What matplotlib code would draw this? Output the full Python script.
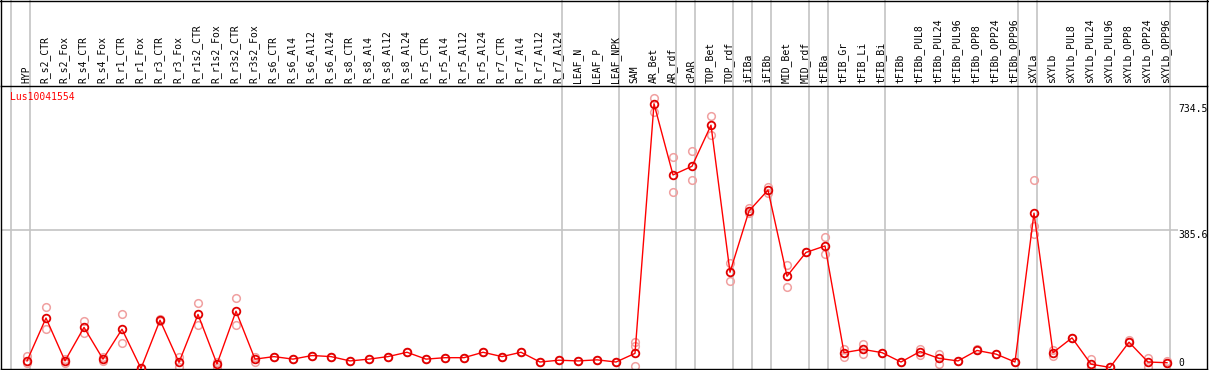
import numpy as np
import matplotlib
matplotlib.use("Agg")
import matplotlib.pyplot as plt
from matplotlib.lines import Line2D
import matplotlib.transforms as mtransforms

# ---------------- data ----------------
gene = "Lus10041554"
categories = [
    "HYP",
    "R_s2_CTR", "R_s2_Fox", "R_s4_CTR", "R_s4_Fox", "R_r1_CTR", "R_r1_Fox",
    "R_r3_CTR", "R_r3_Fox", "R_r1s2_CTR", "R_r1s2_Fox", "R_r3s2_CTR", "R_r3s2_Fox",
    "R_s6_CTR", "R_s6_Al4", "R_s6_Al12", "R_s6_Al24", "R_s8_CTR", "R_s8_Al4",
    "R_s8_Al12", "R_s8_Al24", "R_r5_CTR", "R_r5_Al4", "R_r5_Al12", "R_r5_Al24",
    "R_r7_CTR", "R_r7_Al4", "R_r7_Al12", "R_r7_Al24",
    "LEAF_N", "LEAF_P", "LEAF_NPK",
    "SAM", "AR_Bet", "AR_rdf",
    "cPAR",
    "TOP_Bet", "TOP_rdf",
    "iFIBa",
    "iFIBb",
    "MID_Bet", "MID_rdf",
    "tFIBa",
    "tFIB_Gr", "tFIB_Li", "tFIB_Bi",
    "tFIBb", "tFIBb_PUL8", "tFIBb_PUL24", "tFIBb_PUL96", "tFIBb_OPP8",
    "tFIBb_OPP24", "tFIBb_OPP96",
    "sXYLa",
    "sXYLb", "sXYLb_PUL8", "sXYLb_PUL24", "sXYLb_PUL96", "sXYLb_OPP8",
    "sXYLb_OPP24", "sXYLb_OPP96",
]

mean_values = [
    21,
    140, 21, 114, 26, 109, 0, 134, 17, 150, 12.5, 159, 26,
    33, 26, 36, 33, 21, 26, 33, 45, 26, 30, 30, 45, 33, 45, 18, 23,
    21, 24, 18,
    42, 734.5, 537,
    561,
    675, 267,
    437,
    495,
    256, 322,
    340,
    44, 53, 44,
    18, 47, 28, 21, 50, 40, 18,
    431,
    44, 85, 12, 3, 73, 18, 16,
]

rep_a = [
    35,
    170, 25, 131, 31, 150, 0, 136, 33, 181, 19, 195, 31,
    33, 26, 36, 33, 21, 26, 33, 45, 26, 30, 30, 45, 33, 45, 18, 23,
    21, 24, 18,
    74, 750, 586,
    603,
    700, 292,
    444,
    504,
    286, 322,
    365,
    53, 68, 44,
    18, 53, 40, 21, 54, 40, 18,
    522,
    51, 85, 26, 3, 79, 29, 22,
]

rep_b = [
    14,
    109, 15, 98, 21, 71, 0, 131, 3, 121, 4, 120, 17,
    33, 26, 36, 33, 21, 26, 33, 45, 26, 30, 30, 45, 33, 45, 18, 23,
    21, 24, 18,
    62, 712, 489,
    523,
    648, 242,
    432,
    488,
    225, 322,
    318,
    33, 40, 44,
    18, 38, 12, 21, 50, 40, 18,
    396,
    35, 85, 4, 3, 73, 3, 16,
]

# third replicate only where it is visible separately
rep_c = {"SAM": 7, "sXYLa": 373}

# column boundaries (group separators), in column units
separators = [0, 1, 29, 32, 35, 36, 38, 39, 40, 42, 43, 46, 53, 54, 61]

y_max = 734.5
y_mid = 385.6

# ---------------- figure ----------------
W, H = 1209, 370
DPI = 100
fig = plt.figure(figsize=(W / DPI, H / DPI), dpi=DPI)
fig.patch.set_facecolor("white")

MONO = "DejaVu Sans Mono"
FS = 7

def fx(px):
    return px / W

def fy(py):
    return (H - py) / H

COL_W = 19.0
X0 = 27.0
ax_left_px, ax_right_px = 1.0, 1207.0
ax_top_px, ax_bot_px = 86.0, 369.0

ax = fig.add_axes([fx(ax_left_px), fy(ax_bot_px),
                   fx(ax_right_px) - fx(ax_left_px), fy(ax_top_px) - fy(ax_bot_px)])
ax.set_xlim((ax_left_px - X0) / COL_W, (ax_right_px - X0) / COL_W)
ax.set_ylim(-1.4, 783.7)
ax.set_xticks([])
ax.set_yticks([])
for s in ax.spines.values():
    s.set_color("black")
    s.set_linewidth(1.0)
ax.patch.set_alpha(0)

x = np.arange(len(categories))
grid_col = "#c4c4c4"

# vertical separators spanning the whole figure height
blend = mtransforms.blended_transform_factory(ax.transData, fig.transFigure)
for k in separators:
    xs = k - 16.0 / COL_W
    fig.add_artist(Line2D([xs, xs], [fy(ax_bot_px), 1.0], transform=blend,
                          color=grid_col, lw=1.2, zorder=0))

# horizontal mid line
label_x = (1178 - X0) / COL_W
ax.plot([ax.get_xlim()[0], label_x], [y_mid, y_mid], color=grid_col, lw=1.2,
        zorder=0, solid_capstyle="butt")

# replicate circles
rep_col = "#f0a0a0"
MS = 5.5
ax.plot(x, rep_a, linestyle="none", marker="o", markersize=MS, mfc="none",
        mec=rep_col, mew=1.1, zorder=2, clip_on=True)
ax.plot(x, rep_b, linestyle="none", marker="o", markersize=MS, mfc="none",
        mec=rep_col, mew=1.1, zorder=2, clip_on=True)
for name, v in rep_c.items():
    i = categories.index(name)
    ax.plot([i], [v], linestyle="none", marker="o", markersize=MS, mfc="none",
            mec=rep_col, mew=1.1, zorder=2)

# mean line + markers
ax.plot(x, mean_values, color="#ff0000", lw=1.0, zorder=3)
ax.plot(x, mean_values, linestyle="none", marker="o", markersize=MS, mfc="none",
        mec="#e00000", mew=1.3, zorder=4)

# value labels on the right
ax.text(label_x, y_max, "734.5", ha="left", va="top", fontsize=FS,
        family=MONO, color="black")
ax.text(label_x, y_mid, "385.6", ha="left", va="top", fontsize=FS,
        family=MONO, color="black")
ax.text(label_x, 0, "0", ha="left", va="bottom", fontsize=FS,
        family=MONO, color="black")

# gene title
fig.text(fx(10), fy(92), gene, ha="left", va="top", fontsize=FS,
         family=MONO, color="#ff0000")

# category labels (rotated)
for i, c in enumerate(categories):
    fig.text(i - 0.05, fy(83), c, transform=blend, rotation=90,
             ha="center", va="bottom", fontsize=FS, family=MONO, color="black")

# outer frame of the label area
fig.add_artist(Line2D([0, 1], [fy(0.5), fy(0.5)], transform=fig.transFigure,
                      color="black", lw=1.0))
fig.add_artist(Line2D([fx(1), fx(1)], [fy(ax_top_px), 1], transform=fig.transFigure,
                      color="black", lw=1.0))
fig.add_artist(Line2D([fx(1207), fx(1207)], [fy(ax_top_px), 1], transform=fig.transFigure,
                      color="black", lw=1.0))

fig.savefig("out.png", dpi=DPI, facecolor="white")
